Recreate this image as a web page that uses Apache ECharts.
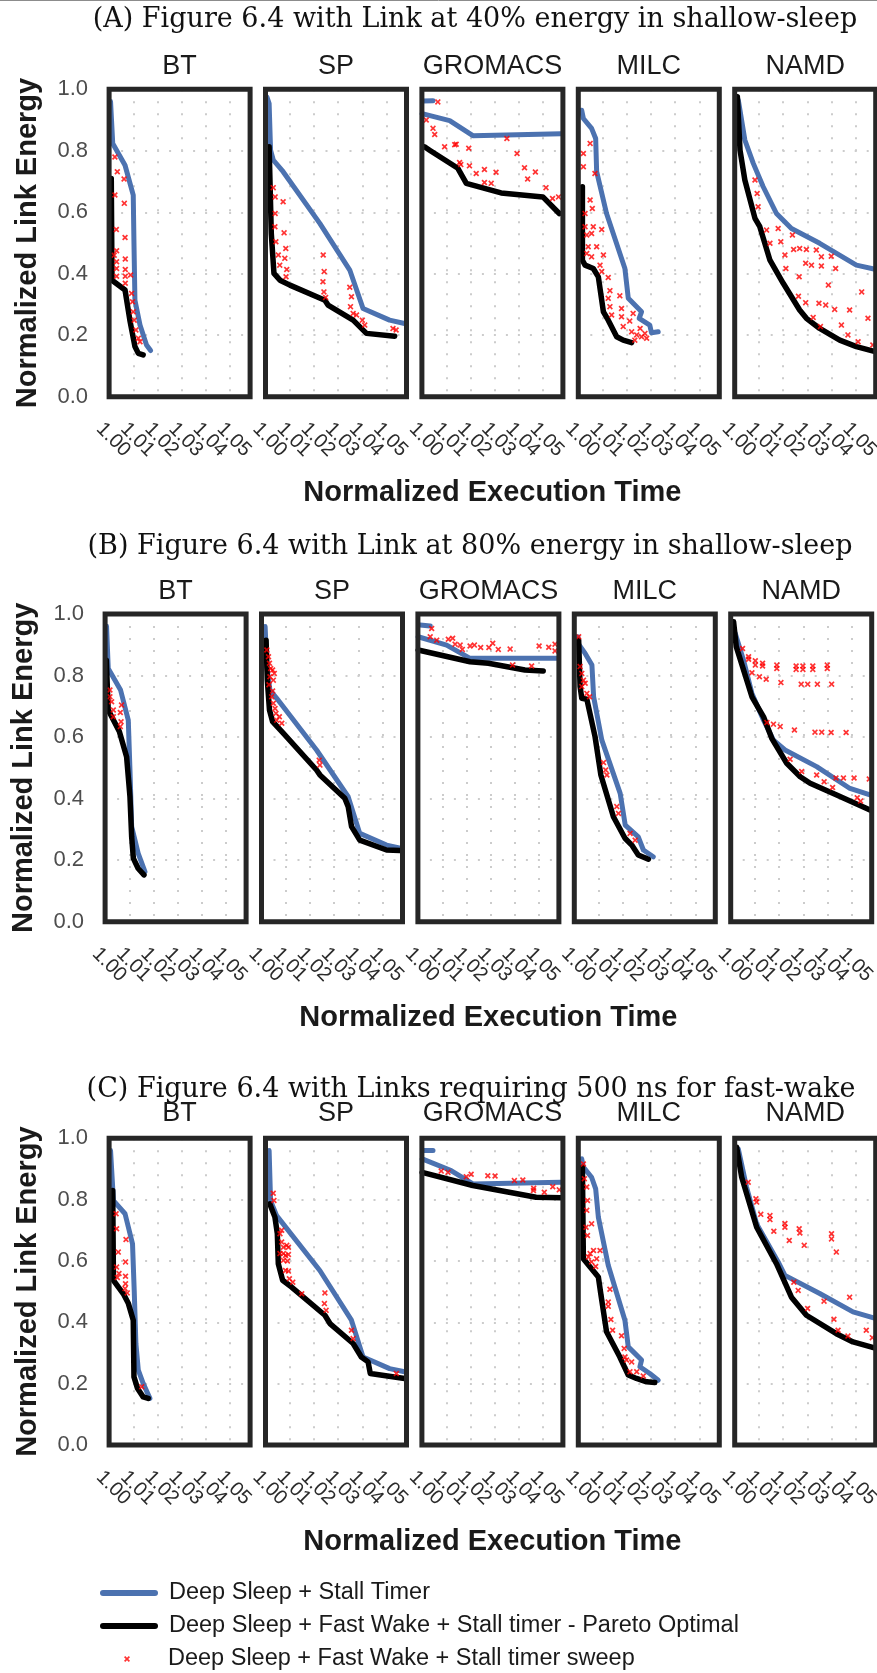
<!DOCTYPE html>
<html><head><meta charset="utf-8">
<script src="https://cdn.jsdelivr.net/npm/echarts@6/dist/echarts.min.js"></script>
<style>html,body{margin:0;padding:0;background:#fff}#c{width:877px;height:1673px}</style>
</head><body><div id="c"></div><script>
// ---------- labels ----------
const benchmarks = ['BT', 'SP', 'GROMACS', 'MILC', 'NAMD'];
const rowTitles = [
  '(A) Figure 6.4 with Link at 40% energy in shallow-sleep',
  '(B) Figure 6.4 with Link at 80% energy in shallow-sleep',
  '(C) Figure 6.4 with Links requiring 500 ns for fast-wake'
];
const seriesNames = [
  'Deep Sleep + Stall Timer',
  'Deep Sleep + Fast Wake + Stall timer - Pareto Optimal',
  'Deep Sleep + Fast Wake + Stall timer sweep'
];
const xTickLabels = ['1.00', '1.01', '1.02', '1.03', '1.04', '1.05'];
const yTickLabels = ['0.0', '0.2', '0.4', '0.6', '0.8', '1.0'];
const xAxisTitle = 'Normalized Execution Time';
const yAxisTitle = 'Normalized Link Energy';

// ---------- (A) 40% ----------
const A_BT_stall = [[1.0005,0.96],[1.0014,0.824],[1.0065,0.753],[1.0099,0.656],[1.0102,0.499],[1.0106,0.314],[1.0127,0.233],[1.0154,0.168],[1.0171,0.150]];
const A_BT_pareto = [[1.0008,0.71],[1.0011,0.379],[1.0065,0.347],[1.0085,0.249],[1.0106,0.163],[1.012,0.141],[1.014,0.136]];
const A_BT_sweep = [[1.0023,0.780],[1.0033,0.732],[1.0061,0.708],[1.0023,0.656],[1.0062,0.629],[1.0029,0.544],[1.0065,0.518],[1.003,0.475],[1.003,0.439],[1.003,0.417],[1.003,0.392],[1.0066,0.448],[1.0066,0.414],[1.0066,0.392],[1.0066,0.369],[1.0088,0.396],[1.0092,0.336],[1.0096,0.309],[1.0099,0.276],[1.0103,0.249],[1.011,0.217],[1.012,0.190],[1.0127,0.179],[1.002,0.46]];
const A_SP_stall = [[1.0005,0.975],[1.0014,0.954],[1.002,0.802],[1.0031,0.770],[1.0072,0.732],[1.0224,0.564],[1.0348,0.412],[1.0403,0.287],[1.0513,0.249],[1.0575,0.238]];
const A_SP_pareto = [[1.0014,0.813],[1.0023,0.531],[1.0034,0.401],[1.0059,0.379],[1.01,0.363],[1.0245,0.314],[1.0258,0.298],[1.0362,0.249],[1.0417,0.206],[1.0534,0.197]];
const A_SP_sweep = [[1.0039,0.650],[1.0072,0.634],[1.0038,0.553],[1.0042,0.504],[1.0076,0.533],[1.0083,0.482],[1.0052,0.461],[1.0079,0.450],[1.0058,0.428],[1.0087,0.414],[1.0084,0.390],[1.0238,0.461],[1.0242,0.407],[1.0237,0.374],[1.0241,0.341],[1.0248,0.323],[1.0348,0.356],[1.0355,0.325],[1.0351,0.293],[1.0362,0.271],[1.0376,0.266],[1.04,0.249],[1.041,0.233],[1.0527,0.222],[1.054,0.217],[1.0039,0.596],[1.0031,0.68]];
const A_GROMACS_stall = [[1.0003,0.962],[1.0045,0.963],null,[1.0,0.921],[1.0114,0.898],[1.021,0.849],[1.0575,0.855]];
const A_GROMACS_pareto = [[1.001,0.813],[1.0031,0.802],[1.0148,0.743],[1.0183,0.694],[1.0327,0.663],[1.05,0.650],[1.0568,0.596]];
const A_GROMACS_sweep = [[1.0065,0.959],[1.0045,0.873],[1.0052,0.853],[1.0093,0.813],[1.0141,0.821],[1.0193,0.808],[1.0155,0.762],[1.0196,0.751],[1.0224,0.726],[1.0258,0.739],[1.0306,0.730],[1.0258,0.697],[1.0286,0.694],[1.0351,0.840],[1.0393,0.791],[1.0424,0.745],[1.0469,0.731],[1.0437,0.708],[1.0513,0.680],[1.054,0.645],[1.0565,0.650],[1.0017,0.9],[1.0135,0.82],[1.016,0.755]];
const A_MILC_stall = [[1.0013,0.932],[1.002,0.905],[1.0054,0.873],[1.0071,0.840],[1.0075,0.732],[1.0116,0.596],[1.0192,0.417],[1.0206,0.320],[1.0261,0.276],[1.0251,0.255],[1.0295,0.233],[1.0302,0.208],[1.033,0.211]];
const A_MILC_pareto = [[1.0016,0.683],[1.0016,0.444],[1.0027,0.428],[1.0061,0.417],[1.0082,0.390],[1.0103,0.276],[1.0123,0.249],[1.0158,0.195],[1.0185,0.184],[1.022,0.176]];
const A_MILC_sweep = [[1.002,0.791],[1.002,0.748],[1.0048,0.824],[1.0068,0.726],[1.0048,0.640],[1.0057,0.612],[1.0027,0.596],[1.0027,0.553],[1.0061,0.553],[1.0096,0.544],[1.0034,0.526],[1.0054,0.531],[1.004,0.488],[1.0075,0.488],[1.0103,0.461],[1.0034,0.466],[1.0054,0.455],[1.0089,0.428],[1.0096,0.407],[1.0123,0.388],[1.013,0.345],[1.0123,0.320],[1.0171,0.328],[1.013,0.293],[1.0137,0.266],[1.0178,0.287],[1.0178,0.260],[1.0226,0.271],[1.0212,0.246],[1.0185,0.228],[1.022,0.211],[1.0241,0.201],[1.0261,0.195],[1.0275,0.206],[1.0255,0.222],[1.0282,0.190],[1.0233,0.184]];
const A_NAMD_stall = [[1.0014,0.965],[1.0041,0.835],[1.0076,0.759],[1.0117,0.683],[1.0172,0.596],[1.0234,0.547],[1.0351,0.499],[1.0503,0.428],[1.0585,0.414]];
const A_NAMD_pareto = [[1.001,0.976],[1.0021,0.802],[1.0041,0.705],[1.0083,0.580],[1.0103,0.553],[1.0145,0.444],[1.02,0.369],[1.0268,0.282],[1.0296,0.255],[1.0351,0.222],[1.0434,0.184],[1.0503,0.163],[1.0585,0.146]];
const A_NAMD_sweep = [[1.0083,0.705],[1.0092,0.661],[1.0096,0.618],[1.0131,0.542],[1.0179,0.547],[1.0145,0.499],[1.019,0.504],[1.0238,0.526],[1.0207,0.461],[1.0243,0.479],[1.0268,0.482],[1.0296,0.479],[1.0337,0.477],[1.0293,0.434],[1.0317,0.428],[1.0358,0.455],[1.0358,0.425],[1.0399,0.457],[1.0417,0.417],[1.0211,0.417],[1.0266,0.390],[1.0387,0.363],[1.0525,0.341],[1.0263,0.327],[1.0293,0.306],[1.0348,0.304],[1.0376,0.298],[1.0413,0.284],[1.0475,0.282],[1.0324,0.258],[1.0354,0.228],[1.0441,0.233],[1.0551,0.255],[1.0468,0.201],[1.051,0.179],[1.0571,0.168]];

// ---------- (B) 80% ----------
const B_BT_stall = [[1.0005,0.96],[1.0012,0.823],[1.0063,0.753],[1.0095,0.655],[1.0102,0.493],[1.0109,0.309],[1.0136,0.222],[1.0164,0.163]];
const B_BT_pareto = [[1.0004,0.85],[1.0012,0.688],[1.0058,0.618],[1.0088,0.536],[1.0102,0.406],[1.0109,0.276],[1.0116,0.206],[1.0136,0.173],[1.016,0.152]];
const B_BT_sweep = [[1.0019,0.753],[1.0026,0.715],[1.0033,0.688],[1.0033,0.666],[1.0067,0.704],[1.0065,0.650],[1.0062,0.634],[1.0019,0.731],[1.0062,0.68]];
const B_SP_stall = [[1.0014,0.959],[1.0021,0.829],[1.0034,0.753],[1.0062,0.726],[1.0227,0.558],[1.0358,0.406],[1.0406,0.287],[1.0517,0.249],[1.0579,0.238]];
const B_SP_pareto = [[1.0018,0.915],[1.0023,0.785],[1.0032,0.688],[1.0045,0.650],[1.009,0.612],[1.0227,0.493],[1.0241,0.477],[1.0344,0.401],[1.0358,0.374],[1.0372,0.309],[1.0406,0.265],[1.0517,0.233],[1.0572,0.231]];
const B_SP_sweep = [[1.0021,0.883],[1.0028,0.861],[1.0032,0.840],[1.0037,0.823],[1.0045,0.818],[1.0052,0.807],[1.0034,0.796],[1.0048,0.785],[1.0041,0.731],[1.0048,0.710],[1.0055,0.693],[1.0059,0.677],[1.0073,0.666],[1.0083,0.645],[1.0062,0.655],[1.0238,0.525],[1.0241,0.509],[1.003,0.77],[1.0045,0.75]];
const B_GROMACS_stall = [[1.0008,0.964],[1.005,0.961],null,[1.0,0.926],[1.0118,0.899],[1.0215,0.856],[1.0573,0.856]];
const B_GROMACS_pareto = [[1.0,0.883],[1.0215,0.845],[1.0291,0.840],[1.0442,0.818],[1.0518,0.815]];
const B_GROMACS_sweep = [[1.0056,0.953],[1.005,0.926],[1.0125,0.918],[1.0143,0.921],[1.0153,0.902],[1.0174,0.899],[1.0183,0.885],[1.0215,0.896],[1.0233,0.899],[1.0259,0.891],[1.0293,0.891],[1.0309,0.905],[1.0332,0.885],[1.0381,0.886],[1.0501,0.896],[1.0541,0.892],[1.0567,0.902],[1.0567,0.880],[1.0391,0.834],[1.047,0.831],[1.0077,0.915]];
const B_MILC_stall = [[1.0014,0.926],[1.0014,0.905],[1.0044,0.872],[1.0072,0.834],[1.0079,0.731],[1.0113,0.590],[1.0189,0.417],[1.021,0.314],[1.0264,0.276],[1.0285,0.233],[1.0326,0.211]];
const B_MILC_pareto = [[1.0017,0.915],[1.0023,0.764],[1.003,0.726],[1.0051,0.723],[1.0085,0.601],[1.0109,0.477],[1.0161,0.341],[1.0209,0.271],[1.0237,0.249],[1.0264,0.217],[1.0306,0.203]];
const B_MILC_sweep = [[1.0023,0.829],[1.003,0.807],[1.0037,0.785],[1.003,0.764],[1.0044,0.775],[1.0051,0.742],[1.0062,0.731],[1.012,0.517],[1.0129,0.493],[1.0134,0.477],[1.0175,0.374],[1.0182,0.352],[1.023,0.287],[1.0251,0.265],[1.0017,0.926]];
const B_NAMD_stall = [[1.0018,0.937],[1.0052,0.850],[1.0087,0.742],[1.0135,0.655],[1.0176,0.590],[1.0224,0.558],[1.0355,0.504],[1.0493,0.433],[1.0576,0.412]];
const B_NAMD_pareto = [[1.0011,0.975],[1.0022,0.894],[1.0087,0.731],[1.0135,0.666],[1.0169,0.596],[1.0231,0.515],[1.0287,0.471],[1.0328,0.450],[1.0438,0.412],[1.0514,0.385],[1.0576,0.363]];
const B_NAMD_sweep = [[1.0073,0.861],[1.0073,0.853],[1.0101,0.848],[1.0101,0.834],[1.0131,0.840],[1.0131,0.831],[1.019,0.834],[1.019,0.823],[1.027,0.831],[1.027,0.820],[1.0298,0.831],[1.0298,0.820],[1.0339,0.831],[1.0339,0.820],[1.0399,0.834],[1.0399,0.823],[1.0087,0.809],[1.0118,0.796],[1.0146,0.788],[1.0207,0.777],[1.0291,0.772],[1.0318,0.772],[1.0358,0.772],[1.0417,0.772],[1.0048,0.888],[1.0149,0.647],[1.0176,0.642],[1.0204,0.634],[1.0263,0.623],[1.0348,0.616],[1.0376,0.616],[1.0415,0.615],[1.0477,0.615],[1.0435,0.467],[1.0466,0.467],[1.051,0.467],[1.0573,0.464],[1.0245,0.528],[1.0293,0.488],[1.0355,0.477],[1.0386,0.455],[1.0421,0.436],[1.0523,0.403],[1.0537,0.392]];

// ---------- (C) 500 ns fast-wake ----------
const C_BT_stall = [[1.0005,0.96],[1.0017,0.797],[1.0065,0.754],[1.0096,0.656],[1.0103,0.504],[1.011,0.331],[1.012,0.244],[1.014,0.201],[1.0168,0.152]];
const C_BT_pareto = [[1.0014,0.830],[1.0017,0.537],[1.0058,0.493],[1.0079,0.461],[1.0099,0.407],[1.0102,0.222],[1.0117,0.184],[1.014,0.157],[1.0161,0.152]];
const C_BT_sweep = [[1.0028,0.754],[1.003,0.705],[1.0037,0.629],[1.003,0.580],[1.004,0.559],[1.0033,0.546],[1.0067,0.597],[1.0067,0.550],[1.0067,0.526],[1.0065,0.510],[1.0069,0.670],[1.0074,0.496],[1.0134,0.190]];
const C_SP_stall = [[1.0014,0.960],[1.002,0.797],[1.0045,0.748],[1.0224,0.569],[1.0355,0.407],[1.0403,0.287],[1.0513,0.249],[1.0575,0.239]];
const C_SP_pareto = [[1.0017,0.786],[1.0038,0.743],[1.0048,0.689],[1.0052,0.591],[1.007,0.537],[1.0107,0.515],[1.0245,0.423],[1.0266,0.396],[1.0362,0.331],[1.0396,0.287],[1.0424,0.271],[1.0433,0.233],[1.0575,0.217]];
const C_SP_sweep = [[1.0031,0.821],[1.0034,0.797],[1.0059,0.689],[1.0066,0.662],[1.0073,0.645],[1.0087,0.651],[1.0094,0.645],[1.0059,0.624],[1.0073,0.624],[1.0082,0.618],[1.0094,0.621],[1.0073,0.602],[1.009,0.600],[1.0082,0.569],[1.0094,0.567],[1.0098,0.542],[1.0112,0.531],[1.0149,0.493],[1.0245,0.496],[1.0243,0.461],[1.025,0.439],[1.0355,0.374],[1.0362,0.347],[1.0541,0.233],[1.0066,0.70]];
const C_GROMACS_stall = [[1.0003,0.96],[1.0045,0.960],null,[1.0,0.933],[1.012,0.895],[1.021,0.851],[1.0575,0.857]];
const C_GROMACS_pareto = [[1.0,0.889],[1.021,0.846],[1.0472,0.808],[1.0575,0.806]];
const C_GROMACS_sweep = [[1.0079,0.893],[1.0107,0.889],[1.0183,0.875],[1.0203,0.883],[1.0272,0.878],[1.0302,0.877],[1.0382,0.862],[1.0417,0.864],[1.0462,0.837],[1.0506,0.824],[1.0541,0.842],[1.0568,0.832],[1.0461,0.830]];
const C_MILC_stall = [[1.0013,0.933],[1.002,0.906],[1.0054,0.873],[1.0071,0.835],[1.0082,0.743],[1.0123,0.586],[1.0192,0.407],[1.0206,0.320],[1.0261,0.277],[1.0254,0.255],[1.0295,0.233],[1.033,0.211]];
const C_MILC_pareto = [[1.0016,0.906],[1.002,0.607],[1.0048,0.580],[1.0082,0.548],[1.0092,0.494],[1.0116,0.369],[1.0171,0.287],[1.0206,0.228],[1.024,0.217],[1.0282,0.206],[1.0316,0.204]];
const C_MILC_sweep = [[1.002,0.916],[1.0024,0.868],[1.0034,0.841],[1.0037,0.797],[1.0034,0.765],[1.0054,0.721],[1.0031,0.710],[1.0037,0.683],[1.0062,0.634],[1.0048,0.624],[1.0041,0.613],[1.0075,0.607],[1.0054,0.597],[1.0071,0.582],[1.0089,0.634],[1.013,0.508],[1.0123,0.466],[1.0123,0.452],[1.0134,0.409],[1.0141,0.374],[1.0178,0.356],[1.0189,0.315],[1.0192,0.287],[1.0199,0.277],[1.022,0.271],[1.0241,0.239],[1.0268,0.225],[1.0213,0.239]];
const C_NAMD_stall = [[1.0014,0.965],[1.0048,0.841],[1.009,0.721],[1.0179,0.597],[1.0207,0.553],[1.0351,0.494],[1.0489,0.434],[1.0585,0.412]];
const C_NAMD_pareto = [[1.0007,0.971],[1.0028,0.873],[1.009,0.710],[1.0172,0.591],[1.0234,0.482],[1.0296,0.423],[1.042,0.363],[1.0489,0.336],[1.0585,0.315]];
const C_NAMD_sweep = [[1.0055,0.857],[1.0087,0.803],[1.009,0.792],[1.0107,0.752],[1.0145,0.748],[1.0145,0.735],[1.0161,0.697],[1.0207,0.722],[1.0207,0.710],[1.0225,0.667],[1.0266,0.705],[1.0269,0.691],[1.0287,0.651],[1.04,0.689],[1.04,0.672],[1.042,0.629],[1.0475,0.482],[1.0369,0.469],[1.0262,0.504],[1.0244,0.531],[1.0301,0.445],[1.041,0.410],[1.0427,0.374],[1.0468,0.355],[1.0544,0.374],[1.0569,0.350]];

const panelData = [
  [[A_BT_stall,A_BT_pareto,A_BT_sweep],[A_SP_stall,A_SP_pareto,A_SP_sweep],[A_GROMACS_stall,A_GROMACS_pareto,A_GROMACS_sweep],[A_MILC_stall,A_MILC_pareto,A_MILC_sweep],[A_NAMD_stall,A_NAMD_pareto,A_NAMD_sweep]],
  [[B_BT_stall,B_BT_pareto,B_BT_sweep],[B_SP_stall,B_SP_pareto,B_SP_sweep],[B_GROMACS_stall,B_GROMACS_pareto,B_GROMACS_sweep],[B_MILC_stall,B_MILC_pareto,B_MILC_sweep],[B_NAMD_stall,B_NAMD_pareto,B_NAMD_sweep]],
  [[C_BT_stall,C_BT_pareto,C_BT_sweep],[C_SP_stall,C_SP_pareto,C_SP_sweep],[C_GROMACS_stall,C_GROMACS_pareto,C_GROMACS_sweep],[C_MILC_stall,C_MILC_pareto,C_MILC_sweep],[C_NAMD_stall,C_NAMD_pareto,C_NAMD_sweep]]
];

// ---------- layout / style ----------
const SANS = 'Liberation Sans';
const SERIF = 'DejaVu Serif';
const BLUE = '#4C72B0';
// axis starts a hair below 1.00 so that its (empty) extent tick is the one dropped by showMinLabel:false
const X_MIN = 0.9999, X_MAX = 1.0583;
const PANEL_W = 141, PANEL_STEP = 156.4;
const rowLayout = [
  {gridTop: 89.3, gridH: 307.4, gridLeft: 109.1, titleTop: 6, titleX: 475, stripTop: 53},
  {gridTop: 614, gridH: 307.7, gridLeft: 105.1, titleTop: 533, titleX: 470, stripTop: 578},
  {gridTop: 1138.3, gridH: 306.7, gridLeft: 109.1, titleTop: 1076, titleX: 471, stripTop: 1100}
];
const X_SHAPE = 'path://M0,2L2,0L5,3L8,0L10,2L7,5L10,8L8,10L5,7L2,10L0,8L3,5Z';
const dotted = {color: '#cccccc', width: 2, type: [2, 10]};
const fixGap = arr => arr.map(p => p === null ? ['-', '-'] : p);
const xLabel = v => {
  const k = Math.round((v - 1) * 100);
  return Math.abs((v - 1) * 100 - k) < 1e-6 && xTickLabels[k] ? '  ' + xTickLabels[k] : '';
};

const grids = [], xAxes = [], yAxes = [], series = [], titles = [];
rowLayout.forEach((L, r) => {
  titles.push({text: rowTitles[r], left: L.titleX, top: L.titleTop, textAlign: 'center', padding: 0,
    textStyle: {fontFamily: SERIF, fontSize: 27, fontWeight: 'normal', color: '#111'}});
  benchmarks.forEach((b, c) => {
    const gi = grids.length;
    const left = L.gridLeft + c * PANEL_STEP;
    grids.push({left: left, top: L.gridTop, width: PANEL_W, height: L.gridH, show: true,
      backgroundColor: 'rgba(0,0,0,0)', borderColor: '#262626', borderWidth: 5, z: 10,
      containLabel: false, outerBoundsMode: 'none'});
    titles.push({text: b, left: left + PANEL_W / 2, top: L.stripTop, textAlign: 'center', padding: 0,
      textStyle: {fontFamily: SANS, fontSize: 27, fontWeight: 'normal', color: '#1a1a1a'}});
    xAxes.push({type: 'value', gridIndex: gi, min: X_MIN, max: X_MAX, splitNumber: 6,
      axisLine: {show: false, onZero: false}, axisTick: {show: false},
      splitLine: {show: true, lineStyle: dotted},
      axisLabel: {show: true, rotate: -45, align: 'center', verticalAlign: 'middle',
        showMinLabel: false, showMaxLabel: false, hideOverlap: false,
        margin: 39, fontSize: 20, fontFamily: SANS, color: '#2b2b2b', formatter: xLabel},
      name: c === 2 ? xAxisTitle : '', nameLocation: 'middle', nameGap: 82, nameMoveOverlap: false,
      nameTextStyle: {fontFamily: SANS, fontSize: 29, fontWeight: 'bold', color: '#1a1a1a'}});
    yAxes.push({type: 'value', gridIndex: gi, min: 0, max: 1, interval: 0.2,
      axisLine: {show: false, onZero: false}, axisTick: {show: false},
      splitLine: {show: true, lineStyle: dotted},
      axisLabel: {show: c === 0, margin: 21, fontSize: 22, fontFamily: SANS, color: '#4d4d4d',
        formatter: v => yTickLabels[Math.round(v * 5)] || ''},
      name: c === 0 ? yAxisTitle : '', nameLocation: 'middle', nameGap: 67, nameMoveOverlap: false,
      nameTextStyle: {fontFamily: SANS, fontSize: 29, fontWeight: 'bold', color: '#1a1a1a'}});
    const [stall, pareto, sweep] = panelData[r][c];
    series.push({type: 'line', name: seriesNames[0], xAxisIndex: gi, yAxisIndex: gi, data: fixGap(stall),
      showSymbol: false, symbol: 'circle', symbolSize: 4, connectNulls: false, z: 2, silent: true,
      lineStyle: {color: BLUE, width: 5, cap: 'round', join: 'round'}, itemStyle: {color: BLUE}});
    series.push({type: 'line', name: seriesNames[1], xAxisIndex: gi, yAxisIndex: gi, data: fixGap(pareto),
      showSymbol: false, symbol: 'circle', symbolSize: 4, z: 3, silent: true,
      lineStyle: {color: '#000', width: 5.5, cap: 'round', join: 'round'}, itemStyle: {color: '#000'}});
    series.push({type: 'scatter', name: seriesNames[2], xAxisIndex: gi, yAxisIndex: gi, data: sweep,
      symbol: X_SHAPE, symbolSize: 6, z: 4, silent: true, itemStyle: {color: '#ff0000'}});
  });
});

const legendTops = [1581, 1614, 1647];
const legendLefts = [100, 100, 124];
const legendPad = [9, 9, 10];
const legends = seriesNames.map((n, i) => ({
  data: [{name: n}], orient: 'vertical', left: legendLefts[i], top: legendTops[i], padding: 0,
  itemWidth: 52, itemHeight: 6, selectedMode: false,
  lineStyle: {width: 6, cap: 'round'},
  textStyle: {fontFamily: SANS, fontSize: 23.5, color: '#1a1a1a', padding: [0, 0, 0, legendPad[i]]}
}));

const chart = echarts.init(document.getElementById('c'), null, {renderer: 'canvas', width: 877, height: 1673});
chart.setOption({
  backgroundColor: '#ffffff',
  animation: false,
  title: titles,
  grid: grids,
  xAxis: xAxes,
  yAxis: yAxes,
  series: series,
  legend: legends,
  graphic: [{type: 'line', shape: {x1: 0, y1: 0.5, x2: 877, y2: 0.5}, style: {stroke: '#8c8c8c', lineWidth: 1}, silent: true}]
});
</script></body></html>
